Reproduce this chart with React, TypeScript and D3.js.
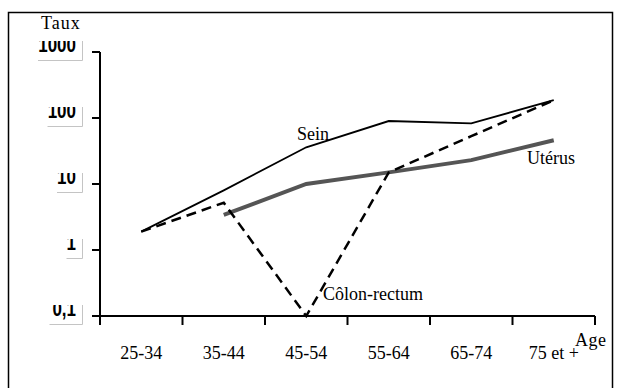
import React from "react";
import * as d3 from "d3";

const categories = ["25-34", "35-44", "45-54", "55-64", "65-74", "75 et +"];
const seinValues = [1.9, 8, 36, 90, 83, 186];
const colonValues = [1.9, 5.2, 0.1, 15, 53, 186];
const uterusValues: (number | null)[] = [null, 3.4, 10, 15, 23, 46];
const yTicks = [0.1, 1, 10, 100, 1000];
const yTickLabels = ["0,1", "1", "10", "100", "1000"];

const W = 617;
const H = 388;
const serifStyle = { fontFamily: "'Liberation Serif', 'DejaVu Serif', serif", fontSize: 18 };

export default function App() {
  const x = d3.scalePoint<string>().domain(categories).range([100, 595]).padding(0.5);
  const y = d3.scaleLog().domain([0.1, 1000]).range([316, 52]);
  const step = x.step();
  const tickXs = d3.range(categories.length + 1).map((i) => 100 + i * step);

  const line = d3
    .line<number | null>()
    .defined((d) => d !== null)
    .x((_, i) => x(categories[i]) as number)
    .y((d) => y(d as number));

  return (
    <svg width={W} height={H} style={{ position: "absolute", left: 0, top: 0, background: "#fff" }}>
      <defs>
        {yTicks.map((t, i) => (
          <clipPath id={"clip" + i} key={i}>
            <rect x={20} y={y(t) - 11} width={62} height={20} />
          </clipPath>
        ))}
      </defs>
      {/* outer frame */}
      <rect x={8.5} y={12.5} width={604} height={400} fill="none" stroke="#000" strokeWidth={1.5} />

      {/* y tick labels, top cut off like the original */}
      {yTicks.map((t, i) => {
        const ty = y(t);
        const w = yTickLabels[i].length * 9.5 + (yTickLabels[i].includes(",") ? -2 : 0);
        return (
          <g key={i}>
            <g clipPath={`url(#clip${i})`}>
              <text
                transform={`translate(76,${ty}) scale(1,1.3)`}
                textAnchor="end"
                style={{ fontFamily: "'Liberation Sans', Arial, sans-serif", fontSize: 17, fontWeight: 600 }}
                fill="#000"
              >
                {yTickLabels[i]}
              </text>
            </g>
            <path
              d={`M${76 - w},${ty + 8.5}H82.5V${ty - 11}`}
              fill="none"
              stroke="#c4c4c4"
              strokeWidth={1}
            />
          </g>
        );
      })}

      {/* axes */}
      <line x1={100} x2={100} y1={y(1000)} y2={y(0.1)} stroke="#000" strokeWidth={2} />
      {yTicks.map((t, i) => (
        <line key={i} x1={92} x2={100} y1={y(t)} y2={y(t)} stroke="#000" strokeWidth={2} />
      ))}
      <line x1={92} x2={595} y1={316} y2={316} stroke="#000" strokeWidth={2} />
      {tickXs.map((tx, i) => (
        <line key={i} x1={tx} x2={tx} y1={316} y2={325} stroke="#000" strokeWidth={2} />
      ))}
      {categories.map((c) => (
        <text key={c} x={x(c)} y={359} textAnchor="middle" style={serifStyle}>
          {c}
        </text>
      ))}

      {/* series */}
      <path d={line(uterusValues) || ""} fill="none" stroke="#555" strokeWidth={4} />
      <path d={line(seinValues) || ""} fill="none" stroke="#000" strokeWidth={1.8} />
      <path
        d={line(colonValues) || ""}
        fill="none"
        stroke="#000"
        strokeWidth={2.5}
        strokeDasharray="10,6"
      />

      {/* labels */}
      <text x={41} y={29} style={{ ...serifStyle, letterSpacing: 1 }}>
        Taux
      </text>
      <text x={575} y={346} style={{ ...serifStyle, letterSpacing: 0.5 }}>
        Age
      </text>
      <text x={297} y={140} style={serifStyle}>
        Sein
      </text>
      <text x={527} y={164} style={serifStyle}>
        Utérus
      </text>
      <text x={323} y={300} style={serifStyle}>
        Côlon-rectum
      </text>
    </svg>
  );
}
